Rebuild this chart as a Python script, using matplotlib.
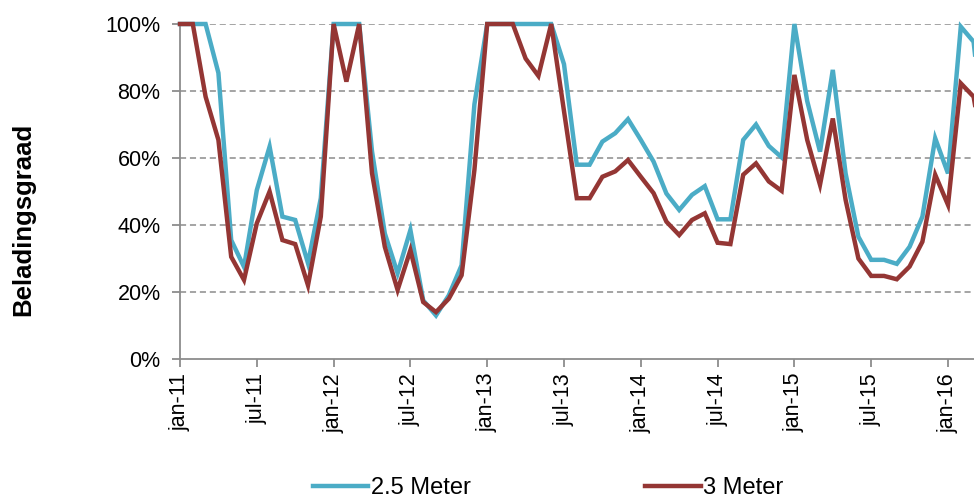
import matplotlib
matplotlib.use("Agg")
import matplotlib.pyplot as plt

plt.rcParams['font.family'] = ['Liberation Sans', 'DejaVu Sans']

# monthly values, jan-11 .. apr-16 (last point is cut off by the frame)
meter_25 = [100, 100, 100, 85.4, 35.5, 27.5, 50.4, 63.4, 42.5, 41.5, 28.6, 48,
            100, 100, 100, 62, 37.5, 25.6, 38.5, 17.5, 13, 19, 28, 76,
            100, 100, 100, 100, 100, 100, 88, 58, 58, 64.9, 67.4, 71.6,
            65.4, 58.9, 49.4, 44.5, 49, 51.6, 41.7, 41.7, 65.4, 70, 63.6, 60.2,
            100, 77, 61.9, 86.3, 55.4, 36.5, 29.6, 29.6, 28.4, 33.5, 42.5, 65.9,
            55.4, 99.2, 94.7, 60]
meter_3 = [100, 100, 78.3, 65.4, 30.5, 23.6, 40.5, 50, 35.5, 34.3, 22, 42.5,
           100, 82.8, 100, 55.5, 33.5, 20.6, 32.5, 17, 14, 18, 25, 56.4,
           100, 100, 100, 89.7, 84.5, 100, 74, 48, 48, 54.4, 56, 59.4,
           54.4, 49.5, 41, 37, 41.5, 43.5, 34.7, 34.3, 55, 58.4, 53, 50.2,
           84.8, 65.4, 52, 71.8, 47.5, 30, 24.8, 24.8, 23.8, 27.6, 35, 55,
           46, 82.3, 78.3, 56]
tick_labels = ["jan-11", "jul-11", "jan-12", "jul-12", "jan-13", "jul-13",
               "jan-14", "jul-14", "jan-15", "jul-15", "jan-16"]
tick_pos = [0, 6, 12, 18, 24, 30, 36, 42, 48, 54, 60]
y_ticks = [0, 20, 40, 60, 80, 100]

blue = "#4BACC6"
red = "#943634"
grey = "#8c8c8c"

fig = plt.figure(figsize=(9.74, 4.98), dpi=100)
ax = fig.add_axes([180/974, 1-359/498, 1-180/974, (359-24)/498])

x = list(range(len(meter_25)))
ax.plot(x, meter_25, color=blue, lw=3.2, label="2.5 Meter", clip_on=False,
        solid_joinstyle="miter", zorder=3)
ax.plot(x, meter_3, color=red, lw=3.2, label="3 Meter", clip_on=False,
        solid_joinstyle="miter", zorder=4)

ax.set_xlim(0, (974-180)/12.8)
ax.set_ylim(0, 100)
ax.set_yticks(y_ticks)
ax.set_yticklabels([f"{v}%" for v in y_ticks], fontsize=15.5)
ax.set_xticks(tick_pos)
ax.set_xticklabels(tick_labels, rotation=90, fontsize=15.5)

for v in y_ticks[1:]:
    ax.axhline(v, color=grey, lw=1.1, ls=(0, (4, 2.5)), zorder=1)

for s in ["top", "right"]:
    ax.spines[s].set_visible(False)
ax.spines["left"].set_color(grey)
ax.spines["bottom"].set_color(grey)
ax.spines["left"].set_linewidth(1.3)
ax.spines["bottom"].set_linewidth(1.3)
ax.tick_params(axis="both", colors=grey, length=6, width=1.3, labelcolor="black")
ax.tick_params(axis="y", pad=8)
ax.tick_params(axis="x", pad=4)

fig.text(23/974, 1-219/498, "Beladingsgraad", rotation=90, fontsize=18.5,
         fontweight="bold", ha="center", va="center")

fig.legend(loc="center", bbox_to_anchor=(548/974, 1-488/498), ncol=2,
           frameon=False, fontsize=17, handlelength=2.35, handletextpad=0.1,
           columnspacing=7.4)

fig.savefig("out.png", dpi=100)
